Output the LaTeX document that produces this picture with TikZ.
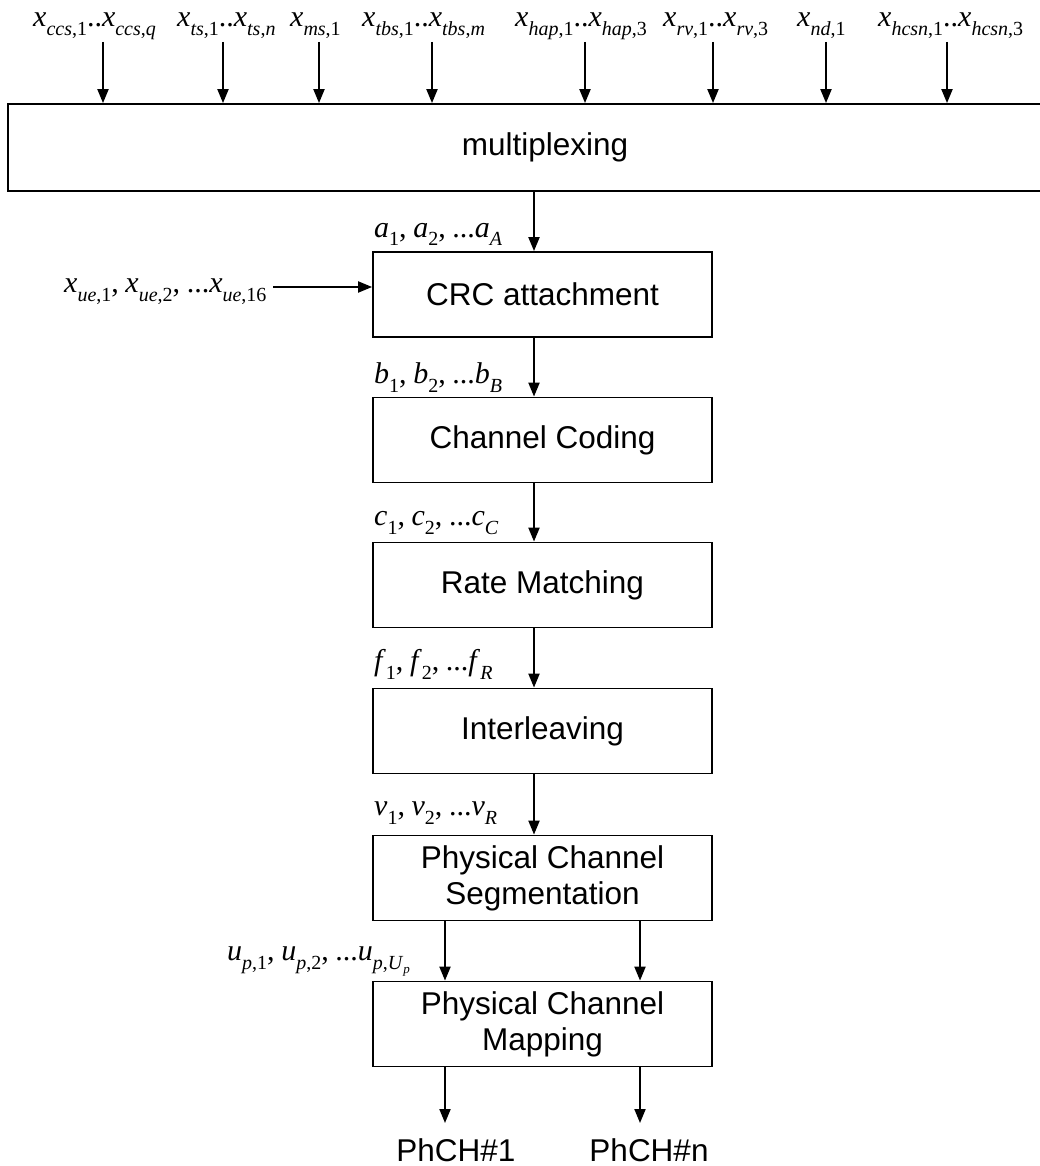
\documentclass[tikz,border=0pt]{standalone}
\usepackage{fontspec}
\setmainfont{Liberation Sans}
\newfontfamily\tms{Liberation Serif}
\usetikzlibrary{arrows.meta}
\newcommand\vs[2]{\textit{#1}\raisebox{-0.3em}{\fontsize{20}{20}\selectfont #2}}
\newcommand\vi[1]{\textit{#1}}
\newcommand\cm{{,}\hspace{0.22em}}
\begin{document}
\begin{tikzpicture}[x=1pt,y=-1pt,
  box/.style={draw,line width=1.8pt,minimum width=339pt,minimum height=85pt,inner sep=0pt,align=center,font=\fontsize{31.5}{36}\selectfont},
  lab/.style={inner sep=0pt,anchor=base west,font=\tms\fontsize{30}{30}\selectfont},
  arr/.style={line width=2pt,-{Triangle[length=14pt,width=11pt]}},
  outlab/.style={inner sep=0pt,anchor=base,font=\fontsize{31.5}{35}\selectfont}]
\useasboundingbox (0,0) rectangle (1039,1166);
% multiplexing
\node[box,minimum width=1074pt,minimum height=87pt] (mux) at (545,147.5) {multiplexing};
% top inputs
\node[lab] (i1) at (33,27) {\vs{x}{\vi{ccs},1}..\vs{x}{\vi{ccs},\vi{q}}};
\node[lab] (i2) at (177,27) {\vs{x}{\vi{ts},1}..\vs{x}{\vi{ts},\vi{n}}};
\node[lab] (i3) at (290,27) {\vs{x}{\vi{ms},1}};
\node[lab] (i4) at (362,27) {\vs{x}{\vi{tbs},1}..\vs{x}{\vi{tbs},\vi{m}}};
\node[lab] (i5) at (515,27) {\vs{x}{\vi{hap},1}..\vs{x}{\vi{hap},3}};
\node[lab] (i6) at (663,27) {\vs{x}{\vi{rv},1}..\vs{x}{\vi{rv},3}};
\node[lab] (i7) at (797,27) {\vs{x}{\vi{nd},1}};
\node[lab] (i8) at (878,27) {\vs{x}{\vi{hcsn},1}..\vs{x}{\vi{hcsn},3}};
\foreach \n/\x in {1/103,2/223,3/319,4/432,5/585,6/713,7/826,8/947}{
  \coordinate (t\n) at (\x,42);
  \draw[arr] (t\n) -- (t\n |- mux.north);
}
% chain
\node[box] (crc) at (542.5,294.5) {CRC attachment};
\node[box] (cc) at (542.5,440) {Channel Coding};
\node[box] (rm) at (542.5,585) {Rate Matching};
\node[box] (il) at (542.5,731) {Interleaving};
\node[box] (pcs) at (542.5,878) {Physical Channel\\Segmentation};
\node[box] (pcm) at (542.5,1024) {Physical Channel\\Mapping};
\coordinate (sp) at (534,0);
\draw[arr] (mux.south -| sp) -- (crc.north -| sp);
\draw[arr] (crc.south -| sp) -- (cc.north -| sp);
\draw[arr] (cc.south -| sp) -- (rm.north -| sp);
\draw[arr] (rm.south -| sp) -- (il.north -| sp);
\draw[arr] (il.south -| sp) -- (pcs.north -| sp);
% labels on chain
\node[lab] (la) at (374,237) {\vs{a}{1}\cm\vs{a}{2}\cm...\vs{a}{\vi{A}}};
\node[lab] (lb) at (374,383) {\vs{b}{1}\cm\vs{b}{2}\cm...\vs{b}{\vi{B}}};
\node[lab] (lc) at (374,525) {\vs{c}{1}\cm\vs{c}{2}\cm...\vs{c}{\vi{C}}};
\node[lab] (lf) at (374,670) {\vs{f}{1}\cm\vs{f}{2}\cm...\vs{f}{\vi{R}}};
\node[lab] (lv) at (374,815) {\vs{v}{1}\cm\vs{v}{2}\cm...\vs{v}{\vi{R}}};
% side input
\node[lab] (xue) at (64,292) {\vs{x}{\vi{ue},1}\cm\vs{x}{\vi{ue},2}\cm...\vs{x}{\vi{ue},16}};
\coordinate (xa) at (273,287);
\draw[arr] (xa) -- (xa -| crc.west);
% segmentation to mapping
\coordinate (c1) at (445,0);
\coordinate (c2) at (640,0);
\draw[arr] (pcs.south -| c1) -- (pcm.north -| c1);
\draw[arr] (pcs.south -| c2) -- (pcm.north -| c2);
\node[lab] (lu) at (227,960) {\vs{u}{\vi{p},1}\cm\vs{u}{\vi{p},2}\cm...\vs{u}{\vi{p},\vi{U}\raisebox{-0.2em}{\fontsize{13}{13}\selectfont\vi{p}}}};
% outputs
\coordinate (o1) at (445,1123);
\coordinate (o2) at (640,1123);
\draw[arr] (pcm.south -| c1) -- (o1);
\draw[arr] (pcm.south -| c2) -- (o2);
\node[outlab] (p1) at (456,1161) {PhCH\#1};
\node[outlab] (p2) at (649,1161) {PhCH\#n};
\end{tikzpicture}
\end{document}
